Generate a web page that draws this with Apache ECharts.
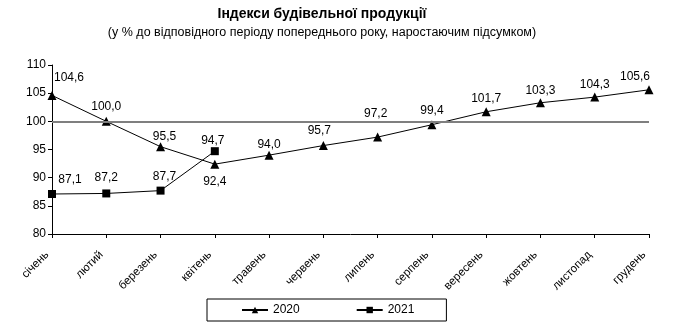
<!DOCTYPE html>
<html><head><meta charset="utf-8">
<script src="https://cdn.jsdelivr.net/npm/echarts@6/dist/echarts.min.js"></script>
<style>html,body{margin:0;padding:0;background:#fff}#c{width:694px;height:334px}</style>
</head><body><div id="c"></div>
<script>
const categories = ['січень','лютий','березень','квітень','травень','червень','липень','серпень','вересень','жовтень','листопад','грудень'];
const values2020 = [104.6, 100.0, 95.5, 92.4, 94.0, 95.7, 97.2, 99.4, 101.7, 103.3, 104.3, 105.6];
const values2021 = [87.1, 87.2, 87.7, 94.7, null, null, null, null, null, null, null, null];
const yTicks = {min: 80, max: 110, interval: 5};
const refLine = 100;

const font = 'Liberation Sans';
const fmt = v => v.toFixed(1).replace('.', ',');

// label placement tweaks (style only)
const shift2020 = [[17, -3], [0, 0], [4, 5], null, [0, 4], [-4, 0], [-2, -9], [0, 0], [0, 1], [0, 2], [0, 2], [-14, 1]];
const shift2021 = [[18, 0], [0, -2], [4, 0], [-2, 3]];

function labelFor2020(i) {
  if (i === 3) return {position: 'bottom', distance: 7};
  return {offset: shift2020[i]};
}
function labelFor2021(i) {
  return {offset: shift2021[i] || [0, 0]};
}

const chart = echarts.init(document.getElementById('c'));
chart.setOption({
  animation: false,
  title: {
    text: 'Індекси будівельної продукції',
    subtext: '(у % до відповідного періоду попереднього року, наростаючим підсумком)',
    left: 317, top: 2, textAlign: 'center', itemGap: 5,
    textStyle: {fontFamily: font, fontSize: 14, fontWeight: 'bold', color: '#000'},
    subtextStyle: {fontFamily: font, fontSize: 12.5, color: '#000'}
  },
  grid: {left: 52, right: 45, top: 65, bottom: 100},
  legend: {
    data: ['2020', '2021'],
    left: 207, top: 299,
    padding: [5, 32, 5, 34], itemGap: 56,
    borderColor: '#000', borderWidth: 1,
    itemWidth: 26, itemHeight: 8,
    textStyle: {fontFamily: font, fontSize: 12, color: '#000'}
  },
  xAxis: {
    type: 'category', data: categories, boundaryGap: false,
    axisLine: {lineStyle: {color: '#000', width: 1}},
    axisTick: {alignWithLabel: true, lineStyle: {color: '#000'}, length: 4},
    axisLabel: {rotate: 45, fontFamily: font, fontSize: 11.5, color: '#000', margin: 14, interval: 0, padding: [0, 7, 0, 0]}
  },
  yAxis: {
    type: 'value', min: yTicks.min, max: yTicks.max, interval: yTicks.interval,
    axisLine: {show: true, lineStyle: {color: '#000', width: 1}},
    axisTick: {show: true, lineStyle: {color: '#000'}, length: 4},
    splitLine: {show: false},
    axisLabel: {fontFamily: font, fontSize: 12, color: '#000', margin: 6}
  },
  series: [
    {
      name: '2020', type: 'line', symbol: 'triangle', symbolSize: 9,
      data: values2020.map((v, i) => ({value: v, label: labelFor2020(i)})),
      lineStyle: {color: '#000', width: 1}, itemStyle: {color: '#000'},
      label: {show: true, position: 'top', distance: 4, fontFamily: font, fontSize: 12, color: '#000', formatter: p => fmt(p.value)},
      markLine: {
        silent: true, symbol: 'none', label: {show: false},
        lineStyle: {color: '#7f7f7f', width: 2, type: 'solid'},
        data: [{yAxis: refLine}]
      },
      z: 3
    },
    {
      name: '2021', type: 'line', symbol: 'rect', symbolSize: 8,
      data: values2021.map((v, i) => ({value: v, label: labelFor2021(i)})),
      lineStyle: {color: '#000', width: 1}, itemStyle: {color: '#000'},
      label: {show: true, position: 'top', distance: 4, fontFamily: font, fontSize: 12, color: '#000', formatter: p => fmt(p.value)},
      z: 3
    }
  ]
});
</script>
</body></html>
